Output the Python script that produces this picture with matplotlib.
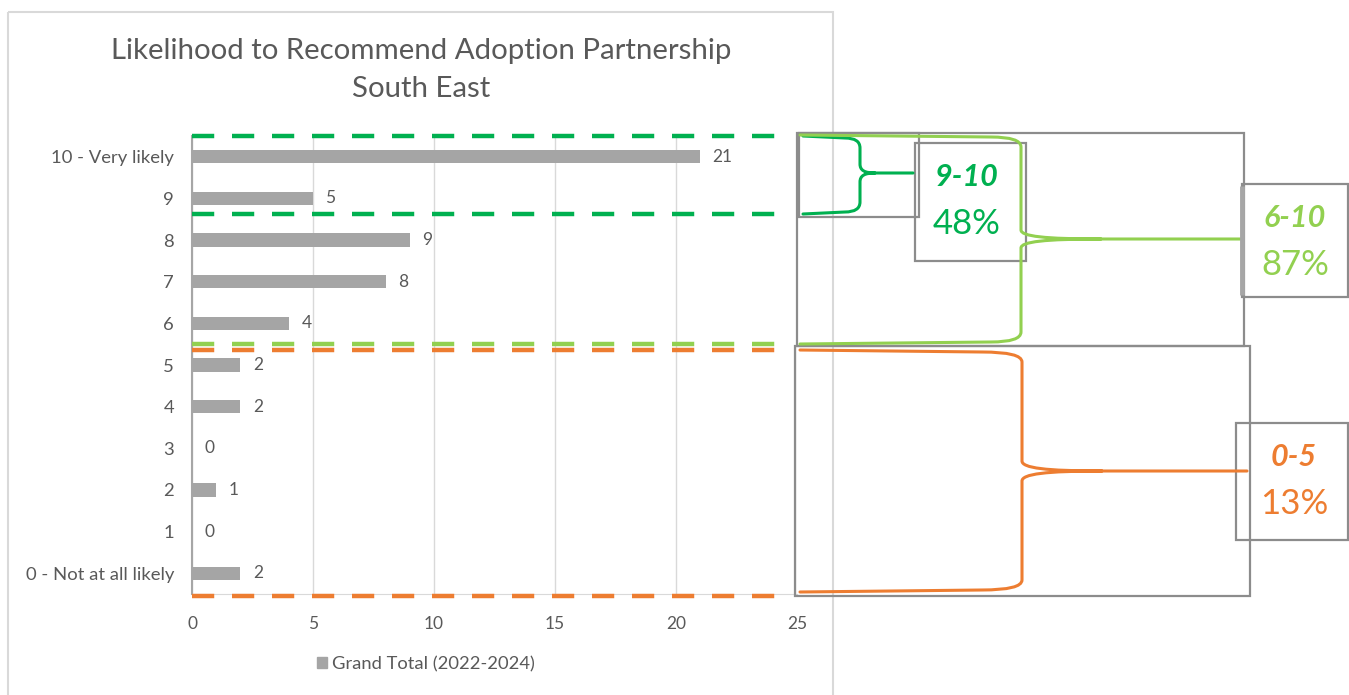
import matplotlib
matplotlib.use("Agg")
import matplotlib.pyplot as plt
from matplotlib.path import Path
from matplotlib.patches import PathPatch, Rectangle

plt.rcParams['font.family'] = ['Lato', 'DejaVu Sans']

# data
categories = ['0 - Not at all likely', '1', '2', '3', '4', '5', '6', '7', '8', '9', '10 - Very likely']
counts = [2, 0, 1, 0, 2, 2, 4, 8, 9, 5, 21]
series_name = 'Grand Total (2022-2024)'
title_lines = ['Likelihood to Recommend Adoption Partnership', 'South East']
groups = ['9-10', '6-10', '0-5']
group_pcts = ['48%', '87%', '13%']

W, H = 1349, 695
GREEN = '#00b050'
LGREEN = '#92d050'
ORANGE = '#ed7d31'
TXT = '#595959'
BOXC = '#8c8c8c'

fig = plt.figure(figsize=(W / 100, H / 100), dpi=100)
fig.patch.set_facecolor('white')

# main bar chart (pixel box 192..797 x 136..594)
ax = fig.add_axes([192 / W, 1 - 594 / H, 605 / W, 458 / H])
y = list(range(len(categories)))
ax.barh(y, counts, height=0.32, color='#a5a5a5', zorder=3)
for yi, v in zip(y, counts):
    ax.annotate(str(v), (v, yi), xytext=(9, 0), textcoords='offset points',
                ha='left', va='center', fontsize=12.5, color=TXT)
ax.set_xlim(0, 25)
ax.set_ylim(-0.5, 10.5)
ax.set_yticks(y)
ax.set_yticklabels(categories, fontsize=13.3, color=TXT)
ax.set_xticks([0, 5, 10, 15, 20, 25])
ax.tick_params(axis='x', labelsize=12.5, labelcolor=TXT, length=0, pad=16)
ax.tick_params(axis='y', length=0, pad=13)
ax.grid(axis='x', color='#d9d9d9', lw=1, zorder=0)
for s in ['top', 'right']:
    ax.spines[s].set_visible(False)
ax.spines['left'].set_color('#a6a6a6')
ax.spines['left'].set_linewidth(1.5)
ax.spines['bottom'].set_color('#d9d9d9')

# dashed group separators
dash_style = dict(linestyles=(0, (5, 4)), lw=3.2, clip_on=False, zorder=4)
ax.hlines([10.5, 8.63], 0, 24.7, colors=GREEN, **dash_style)
ax.hlines([5.5], 0, 24.7, colors=LGREEN, **dash_style)
ax.hlines([5.36, -0.55], 0, 24.7, colors=ORANGE, **dash_style)

fig.legend([Rectangle((0, 0), 1, 1, color='#a5a5a5')], [series_name],
           loc='center', bbox_to_anchor=(426 / W, 1 - 664 / H), frameon=False,
           fontsize=13.2, labelcolor=TXT, handlelength=0.55, handleheight=0.55,
           handletextpad=0.25)

# overlay in pixel coordinates
ov = fig.add_axes([0, 0, 1, 1], zorder=5)
ov.set_xlim(0, W)
ov.set_ylim(H, 0)
ov.axis('off')
ov.patch.set_alpha(0)

# title
for line, ty in zip(title_lines, [51, 89]):
    ov.text(421, ty, line, ha='center', va='center', fontsize=21.2, color=TXT)

# chart frame
ov.add_patch(Rectangle((8, 12), 825, 700, fill=False, ec='#d9d9d9', lw=1.5))


def box(x0, y0, x1, y1, lw=1.6):
    ov.add_patch(Rectangle((x0, y0), x1 - x0, y1 - y0, fill=False, ec=BOXC, lw=lw))


def brace(x0, xv, ytop, ybot, ymid, xtip, rx, ry, tw, th, color):
    verts = [(x0, ytop), (xv - rx, ytop + 2), (xv, ytop + 2), (xv, ytop + ry),
             (xv, ymid - th), (xv, ymid - th * 0.3), (xv + tw * 0.3, ymid), (xv + tw, ymid),
             (xtip, ymid),
             (xv + tw, ymid), (xv + tw * 0.3, ymid), (xv, ymid + th * 0.3), (xv, ymid + th),
             (xv, ybot - ry), (xv, ybot - 2), (xv - rx, ybot - 2), (x0, ybot)]
    codes = [Path.MOVETO, Path.LINETO, Path.CURVE3, Path.CURVE3,
             Path.LINETO, Path.CURVE4, Path.CURVE4, Path.CURVE4,
             Path.LINETO,
             Path.MOVETO, Path.CURVE4, Path.CURVE4, Path.CURVE4,
             Path.LINETO, Path.CURVE3, Path.CURVE3, Path.LINETO]
    ov.add_patch(PathPatch(Path(verts, codes), fill=False, ec=color, lw=2.2,
                           capstyle='round', joinstyle='round'))


# boxes
box(797, 133, 1244, 346)
box(795, 346, 1250, 596)
box(799, 133, 919, 217)
box(915, 143, 1026, 261)
box(1242, 184, 1348, 297)
ov.plot([1242, 1242], [186, 295], color='#a6a6a6', lw=3.5, solid_capstyle='butt')
box(1236, 423, 1348, 540)

# braces
brace(803, 860, 136, 214, 173, 913, 15, 12, 15, 9, GREEN)
brace(800, 1021, 135, 344, 239, 1240, 30, 12, 80, 9, LGREEN)
brace(800, 1022, 350, 592, 471, 1247, 40, 12, 80, 10, ORANGE)

# group labels
label_pos = [(967, 177, 224, GREEN), (1295, 218, 265, LGREEN), (1294, 457, 504, ORANGE)]
for g, p, (xc, yg, yp, c) in zip(groups, group_pcts, label_pos):
    ov.text(xc, yg, g, ha='center', va='center', fontsize=22, color=c,
            fontweight='bold', fontstyle='italic')
    ov.text(xc, yp, p, ha='center', va='center', fontsize=25, color=c)

fig.savefig('out.png', dpi=100, facecolor='white')
